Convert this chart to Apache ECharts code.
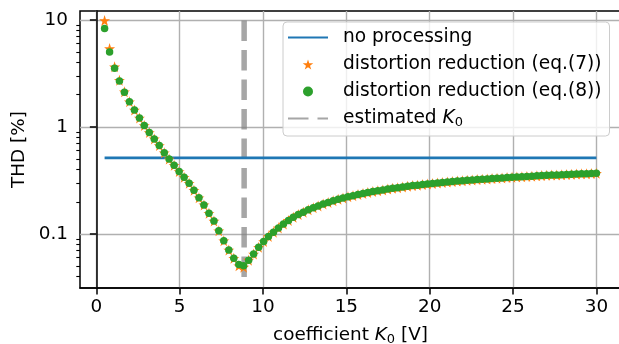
<!DOCTYPE html>
<html>
<head>
<meta charset="utf-8">
<script src="https://cdn.jsdelivr.net/npm/echarts@6/dist/echarts.min.js"></script>
<style>
  html, body { margin: 0; padding: 0; background: #ffffff; }
  #chart { width: 619px; height: 344px; }
</style>
</head>
<body>
<div id="chart"></div>
<script>
// Coefficient K0 sweep [V]
const kValues = [
  0.50, 0.80, 1.10, 1.39, 1.69, 1.99, 2.29, 2.59, 2.88, 3.18,
  3.48, 3.78, 4.08, 4.37, 4.67, 4.97, 5.27, 5.57, 5.86, 6.16,
  6.46, 6.76, 7.06, 7.35, 7.65, 7.95, 8.25, 8.55, 8.84, 9.14,
  9.44, 9.74, 10.04, 10.33, 10.63, 10.93, 11.23, 11.53, 11.82, 12.12,
  12.42, 12.72, 13.02, 13.31, 13.61, 13.91, 14.21, 14.51, 14.80, 15.10,
  15.40, 15.70, 16.00, 16.29, 16.59, 16.89, 17.19, 17.49, 17.78, 18.08,
  18.38, 18.68, 18.98, 19.27, 19.57, 19.87, 20.17, 20.47, 20.76, 21.06,
  21.36, 21.66, 21.96, 22.25, 22.55, 22.85, 23.15, 23.45, 23.74, 24.04,
  24.34, 24.64, 24.94, 25.23, 25.53, 25.83, 26.13, 26.43, 26.72, 27.02,
  27.32, 27.62, 27.92, 28.21, 28.51, 28.81, 29.11, 29.41, 29.70, 30.00
];

// THD [%] after distortion reduction, eq.(7)
const thdEq7 = [
  9.85, 5.39, 3.64, 2.73, 2.13, 1.72, 1.44, 1.21, 1.03, 0.885,
  0.773, 0.669, 0.574, 0.501, 0.438, 0.383, 0.339, 0.298, 0.256, 0.218,
  0.187, 0.156, 0.132, 0.107, 0.0866, 0.0709, 0.0593, 0.0505, 0.0490, 0.0570,
  0.0650, 0.0750, 0.0850, 0.0950, 0.104, 0.114, 0.124, 0.134, 0.143, 0.152,
  0.160, 0.168, 0.176, 0.183, 0.191, 0.197, 0.204, 0.211, 0.217, 0.223,
  0.228, 0.234, 0.239, 0.244, 0.249, 0.254, 0.258, 0.263, 0.267, 0.271,
  0.275, 0.279, 0.283, 0.286, 0.290, 0.293, 0.296, 0.300, 0.303, 0.306,
  0.309, 0.312, 0.315, 0.317, 0.320, 0.322, 0.325, 0.327, 0.330, 0.332,
  0.334, 0.337, 0.339, 0.341, 0.343, 0.345, 0.347, 0.349, 0.351, 0.353,
  0.355, 0.356, 0.358, 0.360, 0.361, 0.363, 0.365, 0.366, 0.368, 0.369
];

// THD [%] after distortion reduction, eq.(8)
const thdEq8 = [
  8.29, 5.02, 3.54, 2.69, 2.11, 1.72, 1.44, 1.21, 1.03, 0.885,
  0.773, 0.669, 0.574, 0.501, 0.438, 0.383, 0.339, 0.298, 0.256, 0.218,
  0.187, 0.156, 0.132, 0.107, 0.0866, 0.0709, 0.0593, 0.0520, 0.0505, 0.0570,
  0.0650, 0.0750, 0.0850, 0.0950, 0.104, 0.114, 0.124, 0.134, 0.143, 0.152,
  0.160, 0.168, 0.176, 0.183, 0.191, 0.197, 0.204, 0.211, 0.217, 0.223,
  0.228, 0.234, 0.239, 0.244, 0.249, 0.254, 0.258, 0.263, 0.267, 0.271,
  0.275, 0.279, 0.283, 0.286, 0.290, 0.293, 0.296, 0.300, 0.303, 0.306,
  0.309, 0.312, 0.315, 0.317, 0.320, 0.322, 0.325, 0.327, 0.330, 0.332,
  0.334, 0.337, 0.339, 0.341, 0.343, 0.345, 0.347, 0.349, 0.351, 0.353,
  0.355, 0.356, 0.358, 0.360, 0.361, 0.363, 0.365, 0.366, 0.368, 0.369
];

// THD [%] without processing (constant over the sweep)
const thdNoProcessing = 0.515;

// Estimated K0 [V] and the THD span of its marker line (top to bottom)
const estimatedK0 = 8.87;
const estimatedSpan = [9.85, 0.036];

// Axis ticks and limits
const xTicks = [0, 5, 10, 15, 20, 25, 30];
const yTicks = [0.1, 1, 10];
const yMinorTicks = [
  0.04, 0.05, 0.06, 0.07, 0.08, 0.09,
  0.2, 0.3, 0.4, 0.5, 0.6, 0.7, 0.8, 0.9,
  2, 3, 4, 5, 6, 7, 8, 9
];
const xLimits = [-0.975, 31.475];
const yLimits = [0.0313, 12.1];

const seriesNames = [
  'no processing',
  'distortion reduction (eq.(7))',
  'distortion reduction (eq.(8))',
  'estimated K0'
];

const FONT = 'DejaVu Sans';
const FS = 18.4;
const FS_LEGEND = 18.6;
const STAR = 'path://M0,-1L0.2245,-0.309L0.9511,-0.309L0.3633,0.118L0.5878,0.809L0,0.382L-0.5878,0.809L-0.3633,0.118L-0.9511,-0.309L-0.2245,-0.309Z';

const chart = echarts.init(document.getElementById('chart'), null, { renderer: 'canvas' });

const pairs = (ys) => kValues.map((k, i) => [k, ys[i]]);

const subscriptRich = (size) => ({
  t: { fontFamily: FONT, fontSize: size, color: '#000' },
  k: { fontFamily: FONT, fontSize: size, fontStyle: 'italic', color: '#000' },
  s: { fontFamily: FONT, fontSize: 13, color: '#000', padding: [8, 0, 0, 0] }
});

chart.setOption({
  animation: false,
  backgroundColor: '#ffffff',
  grid: {
    left: 80, top: 11, width: 541, height: 277,
    outerBoundsMode: 'none',
    containLabel: false,
    show: true, borderColor: '#000000', borderWidth: 1.5,
    backgroundColor: 'transparent'
  },
  xAxis: {
    type: 'value',
    min: xLimits[0], max: xLimits[1],
    axisLine: { show: true, onZero: false, lineStyle: { color: '#000', width: 1.5 } },
    axisTick: { show: true, length: 6.4, customValues: xTicks, lineStyle: { color: '#000', width: 1.5 } },
    axisLabel: {
      customValues: xTicks, margin: 10, color: '#000', fontFamily: FONT, fontSize: FS,
      formatter: (v) => String(v)
    },
    splitLine: { show: true, lineStyle: { color: '#b0b0b0', width: 1.4 } },
    name: '{t|coefficient }{k|K}{s|0}{t| [V]}',
    nameLocation: 'middle',
    nameGap: 37,
    nameTextStyle: { color: '#000', fontFamily: FONT, fontSize: FS, rich: subscriptRich(FS) }
  },
  yAxis: [
    {
      type: 'log',
      logBase: 10,
      min: yLimits[0], max: yLimits[1],
      axisLine: { show: true, lineStyle: { color: '#000', width: 1.5 } },
      axisTick: { show: true, length: 6.4, customValues: yTicks, lineStyle: { color: '#000', width: 1.5 } },
      minorTick: { show: false },
      axisLabel: {
        customValues: yTicks, margin: 12, color: '#000', fontFamily: FONT, fontSize: FS,
        formatter: (v) => String(+Number(v).toPrecision(3))
      },
      splitLine: { show: true, lineStyle: { color: '#b0b0b0', width: 1.4 } },
      name: 'THD [%]',
      nameLocation: 'middle',
      nameRotate: 90,
      nameGap: 50,
      nameTextStyle: { color: '#000', fontFamily: FONT, fontSize: FS }
    },
    {
      // minor ticks of the log axis
      type: 'log',
      logBase: 10,
      position: 'left',
      min: yLimits[0], max: yLimits[1],
      axisLine: { show: false },
      axisTick: { show: true, length: 3.7, customValues: yMinorTicks, lineStyle: { color: '#000', width: 1.1 } },
      axisLabel: { show: false },
      splitLine: { show: false }
    }
  ],
  legend: {
    orient: 'vertical',
    left: 283, top: 22,
    data: [
      { name: seriesNames[0], itemStyle: { opacity: 0 } },
      { name: seriesNames[1] },
      { name: seriesNames[2] },
      { name: seriesNames[3], itemStyle: { opacity: 0 } }
    ],
    selectedMode: false,
    itemWidth: 40, itemHeight: 10, itemGap: 6,
    padding: [5, 8, 7, 4],
    backgroundColor: 'rgba(255,255,255,0.8)',
    borderColor: '#cccccc', borderWidth: 1, borderRadius: 4,
    textStyle: {
      color: '#000', fontFamily: FONT, fontSize: FS_LEGEND, lineHeight: 21,
      padding: [0, 0, 0, 10],
      rich: subscriptRich(FS_LEGEND)
    },
    formatter: (name) => name === seriesNames[3] ? '{t|estimated }{k|K}{s|0}' : name
  },
  series: [
    {
      name: seriesNames[0],
      type: 'line',
      data: [[kValues[0], thdNoProcessing], [kValues[kValues.length - 1], thdNoProcessing]],
      symbol: 'none',
      z: 2,
      lineStyle: { color: '#1f77b4', width: 2.75 },
      itemStyle: { color: '#1f77b4' }
    },
    {
      name: seriesNames[1],
      type: 'scatter',
      data: pairs(thdEq7),
      symbol: STAR,
      symbolSize: 11,
      z: 3,
      itemStyle: { color: '#ff7f0e', opacity: 1 }
    },
    {
      name: seriesNames[2],
      type: 'scatter',
      data: pairs(thdEq8),
      symbol: 'circle',
      symbolSize: 7.5,
      z: 4,
      itemStyle: { color: '#2ca02c', opacity: 1 }
    },
    {
      name: seriesNames[3],
      type: 'line',
      data: [[estimatedK0, estimatedSpan[0]], [estimatedK0, estimatedSpan[1]]],
      symbol: 'none',
      z: 1,
      lineStyle: { color: 'rgba(128,128,128,0.7)', width: 5.5, type: [20.5, 9], cap: 'butt' },
      itemStyle: { color: 'rgba(128,128,128,0.7)' }
    }
  ]
});
</script>
</body>
</html>
